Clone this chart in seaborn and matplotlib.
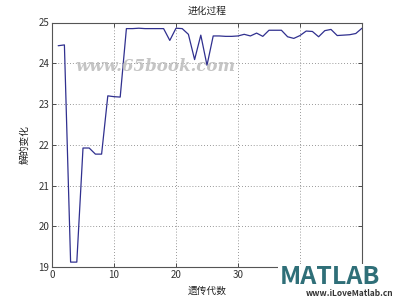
import numpy as np
import pandas as pd
import matplotlib
matplotlib.use("Agg")
import matplotlib.pyplot as plt
import seaborn as sns

generations = list(range(1, 51))
values = [24.43, 24.45, 19.12, 19.12, 21.92, 21.92, 21.77, 21.77, 23.20, 23.18,
          23.17, 24.85, 24.85, 24.86, 24.85, 24.85, 24.85, 24.85, 24.56, 24.86,
          24.85, 24.71, 24.09, 24.69, 23.95, 24.67, 24.67, 24.66, 24.66, 24.67,
          24.71, 24.67, 24.74, 24.66, 24.81, 24.81, 24.81, 24.65, 24.61, 24.68,
          24.79, 24.78, 24.65, 24.80, 24.83, 24.68, 24.69, 24.70, 24.73, 24.86]
x_ticks = [0, 10, 20, 30, 40, 50]
y_ticks = [19, 20, 21, 22, 23, 24, 25]
title = "进化过程"
xlabel = "遗传代数"
ylabel = "解的变化"

sns.set_style("white")
plt.rcParams['font.family'] = ['Noto Sans CJK SC', 'DejaVu Sans']

df = pd.DataFrame({"gen": generations, "val": values})

fig = plt.figure(figsize=(4, 3), dpi=100, facecolor="white")
ax = fig.add_axes([0.13, 0.11, 0.775, 0.815])
sns.lineplot(data=df, x="gen", y="val", ax=ax, color="#30308f", linewidth=0.9)

ax.set_xlim(0, 50)
ax.set_ylim(19, 25)
ax.set_xticks(x_ticks)
ax.set_yticks(y_ticks)
ax.tick_params(direction="in", length=3, width=0.6, labelsize=7, colors="#333333",
               top=True, right=True, bottom=True, left=True, pad=2)
ax.grid(True, linestyle=(0, (1, 2.5)), color="#777777", linewidth=0.6)
for s in ax.spines.values():
    s.set_color("#555555")
    s.set_linewidth(0.8)
    s.set_visible(True)
ax.set_title(title, fontsize=7, color="#222222", pad=6)
ax.set_xlabel(xlabel, fontsize=7, color="#222222", labelpad=4)
ax.set_ylabel(ylabel, fontsize=7, color="#222222", labelpad=6)

# watermarks
fig.text(0.19, 0.777, "www.65book.com", fontsize=12, fontweight="bold", style="italic",
         color="#bbbbbb", alpha=0.85, family=["DejaVu Serif"], va="center")
fig.text(0.70, 0.075, "MATLAB", fontsize=18, fontweight="bold", style="italic",
         color="#2f6f78", va="center", zorder=10,
         bbox=dict(facecolor="white", edgecolor="none", pad=1.5))
fig.text(0.765, 0.022, "www.iLoveMatlab.cn", fontsize=6, fontweight="bold",
         color="#333333", va="center", zorder=10)

fig.savefig("out.png", dpi=100, facecolor="white")
